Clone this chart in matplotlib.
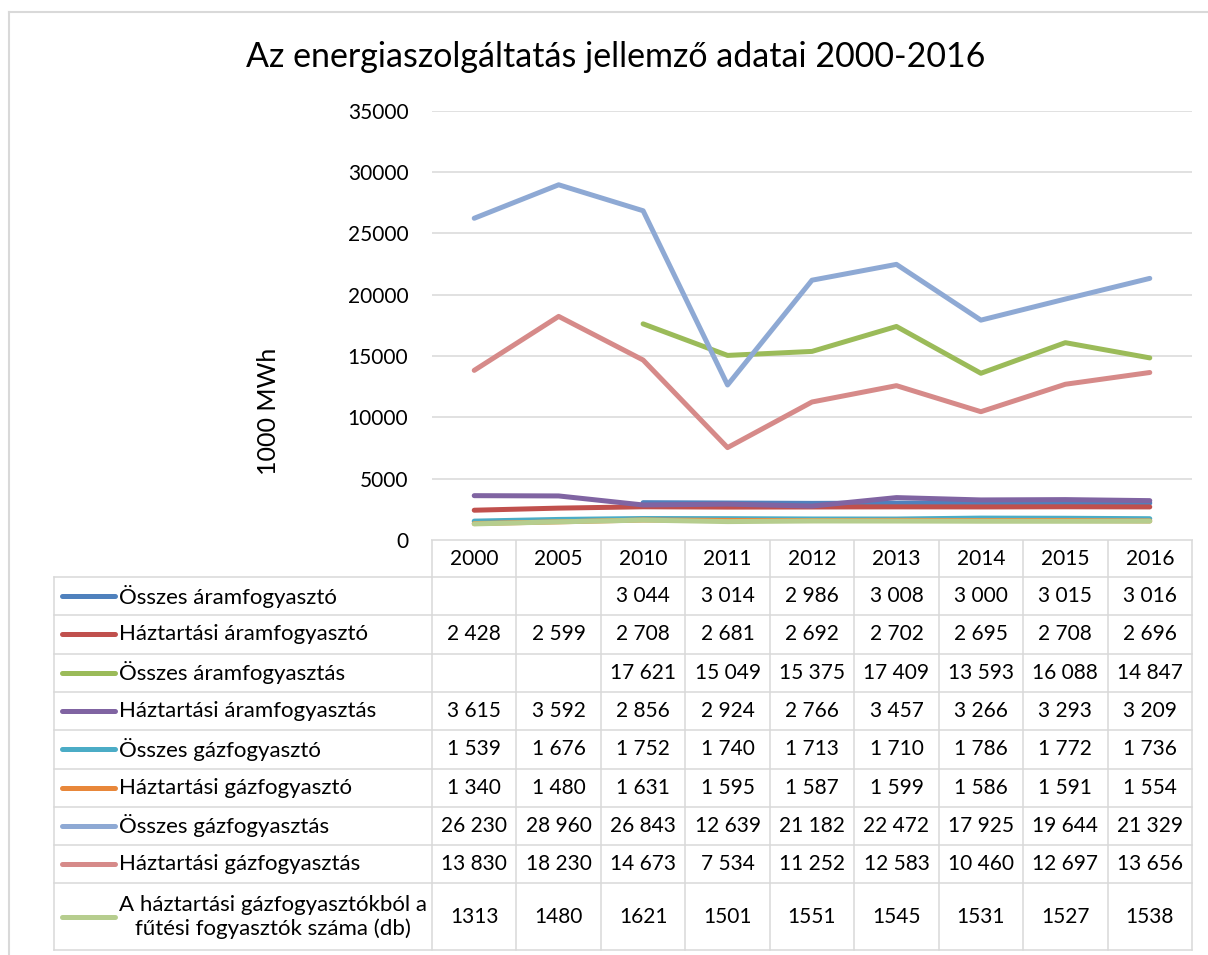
import matplotlib
matplotlib.use("Agg")
import matplotlib.pyplot as plt

plt.rcParams["font.family"] = ["Lato", "DejaVu Sans"]

years = ["2000", "2005", "2010", "2011", "2012", "2013", "2014", "2015", "2016"]

series_names = [
    "Összes áramfogyasztó",
    "Háztartási áramfogyasztó",
    "Összes áramfogyasztás",
    "Háztartási áramfogyasztás",
    "Összes gázfogyasztó",
    "Háztartási gázfogyasztó",
    "Összes gázfogyasztás",
    "Háztartási gázfogyasztás",
    "A háztartási gázfogyasztókból a\nfűtési fogyasztók száma (db)",
]

osszes_aramfogyaszto = [None, None, 3044, 3014, 2986, 3008, 3000, 3015, 3016]
haztartasi_aramfogyaszto = [2428, 2599, 2708, 2681, 2692, 2702, 2695, 2708, 2696]
osszes_aramfogyasztas = [None, None, 17621, 15049, 15375, 17409, 13593, 16088, 14847]
haztartasi_aramfogyasztas = [3615, 3592, 2856, 2924, 2766, 3457, 3266, 3293, 3209]
osszes_gazfogyaszto = [1539, 1676, 1752, 1740, 1713, 1710, 1786, 1772, 1736]
haztartasi_gazfogyaszto = [1340, 1480, 1631, 1595, 1587, 1599, 1586, 1591, 1554]
osszes_gazfogyasztas = [26230, 28960, 26843, 12639, 21182, 22472, 17925, 19644, 21329]
haztartasi_gazfogyasztas = [13830, 18230, 14673, 7534, 11252, 12583, 10460, 12697, 13656]
futesi_fogyasztok = [1313, 1480, 1621, 1501, 1551, 1545, 1531, 1527, 1538]

series_values = [
    osszes_aramfogyaszto, haztartasi_aramfogyaszto, osszes_aramfogyasztas,
    haztartasi_aramfogyasztas, osszes_gazfogyaszto, haztartasi_gazfogyaszto,
    osszes_gazfogyasztas, haztartasi_gazfogyasztas, futesi_fogyasztok,
]

colors = ["#4F81BD", "#C0504D", "#9BBB59", "#8064A2", "#4BACC6",
          "#E8873A", "#8EA9D4", "#D68A89", "#B6CD8E"]

W, H = 1208, 955
GRID = "#D9D9D9"
FS = 15          # numbers
FS_NAME = 16     # series names in the table

# layout in pixels
x0, x1 = 432, 1192           # value columns
key_left = 54                # legend column left edge
y_top, y_zero = 110.7, 540   # plot area
header_bottom = 577
row_h = 38.3
last_row_bottom = 950
col_w = (x1 - x0) / len(years)


def fmt(v, sep=True):
    if v is None:
        return ""
    if not sep:
        return str(v)
    return f"{v:,}".replace(",", " ")


fig = plt.figure(figsize=(W / 100, H / 100), dpi=100)

# line chart
ax = fig.add_axes([x0 / W, 1 - y_zero / H, (x1 - x0) / W, (y_zero - y_top) / H])
xs = list(range(len(years)))
for vals, color in zip(series_values, colors):
    pts = [(x, v) for x, v in zip(xs, vals) if v is not None]
    ax.plot([p[0] for p in pts], [p[1] for p in pts], color=color, lw=3.6,
            solid_capstyle="round", solid_joinstyle="round", zorder=3)
ax.set_xlim(-0.5, len(years) - 0.5)
ax.set_ylim(0, 35000)
ax.set_yticks(range(0, 35001, 5000))
ax.set_xticks([])
ax.yaxis.grid(True, color=GRID, lw=1.1)
ax.set_axisbelow(True)
for s in ax.spines.values():
    s.set_visible(False)
ax.tick_params(axis="y", length=0, pad=17, labelsize=FS, labelcolor="black")
ax.set_ylabel("1000 MWh", fontsize=18)
ax.yaxis.set_label_coords((280 - x0) / (x1 - x0), (y_zero - 411) / (y_zero - y_top))

# data table and frame, drawn in pixel coordinates
tab = fig.add_axes([0, 0, 1, 1], zorder=-1)
tab.set_xlim(0, W)
tab.set_ylim(H, 0)
tab.axis("off")

tab.plot([9, W], [12, 12], color=GRID, lw=1.5)
tab.plot([9, 9], [12, H], color=GRID, lw=1.5)

row_edges = [header_bottom + i * row_h for i in range(len(series_names))] + [last_row_bottom]
col_edges = [x0 + i * col_w for i in range(len(years) + 1)]

# horizontal rules
tab.plot([x0, x1], [y_zero, y_zero], color=GRID, lw=1.1)
for y in row_edges:
    tab.plot([key_left, x1], [y, y], color=GRID, lw=1.1)
# vertical rules
tab.plot([key_left, key_left], [header_bottom, last_row_bottom], color=GRID, lw=1.1)
for x in col_edges:
    tab.plot([x, x], [y_zero, last_row_bottom], color=GRID, lw=1.1)

for i, yr in enumerate(years):
    tab.text(x0 + (i + 0.5) * col_w, (y_zero + header_bottom) / 2, yr,
             ha="center", va="center", fontsize=FS)

for r, (name, vals, color) in enumerate(zip(series_names, series_values, colors)):
    yc = (row_edges[r] + row_edges[r + 1]) / 2
    tab.plot([62, 115], [yc, yc], color=color, lw=3.6, solid_capstyle="round")
    tab.text(119, yc, name, ha="left", va="center", fontsize=FS_NAME,
             multialignment="center", linespacing=1.2)
    sep = r < len(series_names) - 1
    for i, v in enumerate(vals):
        tab.text(x0 + (i + 0.5) * col_w, yc, fmt(v, sep),
                 ha="center", va="center", fontsize=FS)

fig.text(616 / W, 1 - 57 / H, "Az energiaszolgáltatás jellemző adatai 2000-2016",
         ha="center", va="center", fontsize=24.5)

fig.savefig("out.png", dpi=100)
